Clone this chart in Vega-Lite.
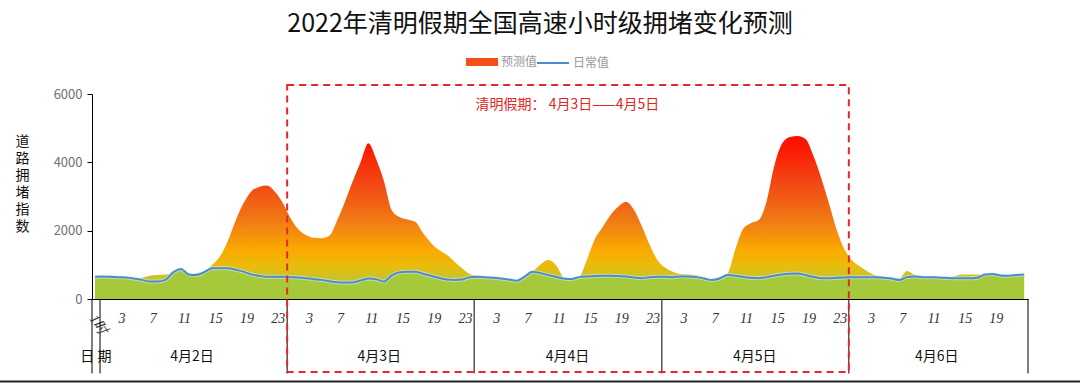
{
  "$schema": "https://vega.github.io/schema/vega-lite/v6.json",
  "width": 936,
  "height": 205,
  "autosize": {"type": "none"},
  "padding": {"left": 92, "top": 94, "right": 52, "bottom": 84},
  "background": "white",
  "config": {"font": "Noto Sans CJK SC", "view": {"stroke": null}, "axisX": {"labelOverlap": false, "labelBound": false}},
  "title": {"text": "2022年清明假期全国高速小时级拥堵变化预测", "fontSize": 25, "fontWeight": "normal", "color": "#111", "anchor": "middle", "offset": 9, "dx": -20, "font": "Noto Sans CJK SC"},
  "datasets": {
    "hourly": [
      {"h":0,"f":640,"n":650},{"h":1,"f":640,"n":660},{"h":2,"f":630,"n":650},{"h":3,"f":620,"n":640},{"h":4,"f":610,"n":630},{"h":5,"f":600,"n":600},{"h":6,"f":620,"n":560},{"h":7,"f":680,"n":510},{"h":8,"f":700,"n":510},{"h":9,"f":720,"n":560},
      {"h":10,"f":740,"n":780},{"h":11,"f":720,"n":880},{"h":12,"f":700,"n":720},{"h":13,"f":760,"n":700},{"h":14,"f":800,"n":790},{"h":15,"f":1000,"n":900},{"h":16,"f":1250,"n":900},{"h":17,"f":1700,"n":900},{"h":18,"f":2300,"n":860},{"h":19,"f":2800,"n":800},
      {"h":20,"f":3150,"n":720},{"h":21,"f":3280,"n":680},{"h":22,"f":3320,"n":650},{"h":23,"f":3150,"n":650},{"h":24,"f":2830,"n":650},{"h":25,"f":2380,"n":640},{"h":26,"f":2050,"n":630},{"h":27,"f":1870,"n":605},{"h":28,"f":1790,"n":580},{"h":29,"f":1780,"n":560},
      {"h":30,"f":1850,"n":520},{"h":31,"f":2300,"n":490},{"h":32,"f":2850,"n":480},{"h":33,"f":3450,"n":485},{"h":34,"f":4000,"n":540},{"h":35,"f":4560,"n":600},{"h":36,"f":4100,"n":580},{"h":37,"f":3450,"n":510},{"h":38,"f":2600,"n":690},{"h":39,"f":2400,"n":780},
      {"h":40,"f":2330,"n":800},{"h":41,"f":2260,"n":800},{"h":42,"f":1930,"n":740},{"h":43,"f":1650,"n":680},{"h":44,"f":1440,"n":620},{"h":45,"f":1300,"n":570},{"h":46,"f":1100,"n":556},{"h":47,"f":900,"n":570},{"h":48,"f":730,"n":640},{"h":49,"f":680,"n":650},
      {"h":50,"f":620,"n":640},{"h":51,"f":600,"n":620},{"h":52,"f":560,"n":600},{"h":53,"f":550,"n":570},{"h":54,"f":530,"n":535},{"h":55,"f":680,"n":650},{"h":56,"f":800,"n":800},{"h":57,"f":1000,"n":760},{"h":58,"f":1140,"n":700},{"h":59,"f":1000,"n":650},
      {"h":60,"f":620,"n":600},{"h":61,"f":470,"n":585},{"h":62,"f":620,"n":640},{"h":63,"f":1150,"n":660},{"h":64,"f":1750,"n":670},{"h":65,"f":2100,"n":680},{"h":66,"f":2450,"n":680},{"h":67,"f":2700,"n":670},{"h":68,"f":2850,"n":660},{"h":69,"f":2620,"n":630},
      {"h":70,"f":2150,"n":610},{"h":71,"f":1600,"n":640},{"h":72,"f":1150,"n":650},{"h":73,"f":920,"n":650},{"h":74,"f":800,"n":640},{"h":75,"f":730,"n":660},{"h":76,"f":720,"n":660},{"h":77,"f":700,"n":640},{"h":78,"f":640,"n":600},{"h":79,"f":560,"n":556},
      {"h":80,"f":650,"n":600},{"h":81,"f":750,"n":700},{"h":82,"f":1450,"n":680},{"h":83,"f":2050,"n":650},{"h":84,"f":2220,"n":620},{"h":85,"f":2310,"n":610},{"h":86,"f":2850,"n":640},{"h":87,"f":3900,"n":680},{"h":88,"f":4550,"n":720},{"h":89,"f":4740,"n":740},
      {"h":90,"f":4770,"n":750},{"h":91,"f":4680,"n":700},{"h":92,"f":4200,"n":650},{"h":93,"f":3550,"n":610},{"h":94,"f":2800,"n":610},{"h":95,"f":2020,"n":620},{"h":96,"f":1450,"n":630},{"h":97,"f":1120,"n":640},{"h":98,"f":950,"n":640},{"h":99,"f":800,"n":640},
      {"h":100,"f":690,"n":640},{"h":101,"f":660,"n":620},{"h":102,"f":620,"n":600},{"h":103,"f":600,"n":556},{"h":104,"f":820,"n":640},{"h":105,"f":700,"n":660},{"h":106,"f":660,"n":640},{"h":107,"f":650,"n":640},{"h":108,"f":640,"n":630},{"h":109,"f":640,"n":620},
      {"h":110,"f":660,"n":610},{"h":111,"f":720,"n":605},{"h":112,"f":720,"n":605},{"h":113,"f":720,"n":620},{"h":114,"f":700,"n":720},{"h":115,"f":700,"n":730},{"h":116,"f":690,"n":690},{"h":117,"f":680,"n":680},{"h":118,"f":700,"n":700},{"h":119,"f":720,"n":720}
    ],
    "days": [
      {"day":"4月2日","mid":12.4},{"day":"4月3日","mid":36.4},{"day":"4月4日","mid":60.5},{"day":"4月5日","mid":84.5},{"day":"4月6日","mid":107.8}
    ],
    "bounds": [
      {"b":-0.4},{"b":0.63},{"b":24.6},{"b":48.55},{"b":72.6},{"b":96.55},{"b":119.5}
    ]
  },
  "layer": [
    {
      "data": {"name": "hourly"},
      "mark": {"type": "area", "interpolate": "monotone",
        "color": {"gradient": "linear", "x1": 0, "y1": 0, "x2": 0, "y2": 1,
          "stops": [
            {"offset": 0, "color": "#ff0a00"},
            {"offset": 0.3, "color": "#f24a14"},
            {"offset": 0.52, "color": "#f07a14"},
            {"offset": 0.7, "color": "#fbaa00"},
            {"offset": 0.8, "color": "#e8bc0c"},
            {"offset": 0.87, "color": "#c9c22a"},
            {"offset": 1, "color": "#b0c834"}
          ]}},
      "encoding": {
        "x": {"field": "h", "type": "quantitative",
          "scale": {"domain": [-0.4, 119.5], "nice": false, "zero": false},
          "axis": {"values": [3,7,11,15,19,23,27,31,35,39,43,47,51,55,59,63,67,71,75,79,83,87,91,95,99,103,107,111,115],
            "tickCount": 60,
            "labelExpr": "'' + (datum.value % 24)",
            "ticks": false, "grid": false, "domainColor": "#000", "domainWidth": 1,
            "labelFont": "Liberation Serif", "labelFontStyle": "italic", "labelFontSize": 14, "labelColor": "#333",
            "labelPadding": 12, "labelOffset": 3, "title": null, "labelOverlap": false, "labelFlush": false, "labelSeparation": 0}},
        "y": {"field": "f", "type": "quantitative", "stack": null,
          "scale": {"domain": [0, 6000], "nice": false},
          "axis": {"values": [0,1000,2000,3000,4000,5000,6000], "format": "d", "grid": false,
            "domainColor": "#000", "tickColor": "#000", "tickSize": 5, "labelPadding": 5,
            "labelColor": "#707070", "labelFontSize": 13, "labelFont": "Noto Sans CJK SC",
            "title": ["道","路","拥","堵","指","数"], "titleAngle": 0, "titleFontSize": 14, "titleFontWeight": "normal",
            "titleColor": "#111", "titleLineHeight": 17, "titleX": -70, "titleY": 40, "titleBaseline": "top", "titleAlign": "center"}}
      }
    },
    {
      "data": {"name": "hourly"},
      "mark": {"type": "area", "interpolate": "monotone", "color": "#a5c93a"},
      "encoding": {
        "x": {"field": "h", "type": "quantitative"},
        "y": {"field": "n", "type": "quantitative", "stack": null}
      }
    },
    {
      "data": {"name": "hourly"},
      "mark": {"type": "line", "interpolate": "monotone", "color": "#e6f4fb", "strokeWidth": 4, "opacity": 0.5},
      "encoding": {
        "x": {"field": "h", "type": "quantitative"},
        "y": {"field": "n", "type": "quantitative"}
      }
    },
    {
      "data": {"name": "hourly"},
      "mark": {"type": "line", "interpolate": "monotone", "strokeWidth": 2},
      "encoding": {
        "x": {"field": "h", "type": "quantitative"},
        "y": {"field": "n", "type": "quantitative"},
        "color": {"datum": "日常值", "type": "nominal",
          "scale": {"domain": ["日常值"], "range": ["#4a8cd2"]},
          "legend": {"orient": "none", "legendX": 444, "legendY": -48, "direction": "horizontal", "title": null,
            "symbolType": "stroke", "symbolSize": 1024, "symbolStrokeWidth": 2,
            "labelFontSize": 12, "labelColor": "#999", "labelOffset": 3,
            "labelFont": "Noto Sans CJK SC"}}
      }
    },
    {
      "data": {"values": []},
      "mark": {"type": "square", "filled": true, "opacity": 1},
      "encoding": {
        "x": {"datum": 0},
        "y": {"datum": 0},
        "fill": {"datum": "预测值", "type": "nominal",
          "scale": {"domain": ["预测值"], "range": ["#f0501a"]},
          "legend": {"orient": "none", "legendX": 374, "legendY": -48, "direction": "horizontal", "title": null,
            "symbolType": "M-1,-0.25H1V0.25H-1Z", "symbolSize": 1024, "symbolStrokeWidth": 0, "symbolOpacity": 1,
            "labelFontSize": 12, "labelColor": "#999", "labelOffset": 3,
            "labelFont": "Noto Sans CJK SC"}}
      }
    },
    {
      "data": {"name": "bounds"},
      "mark": {"type": "rule", "color": "#000", "strokeWidth": 1},
      "encoding": {
        "x": {"field": "b", "type": "quantitative"},
        "y": {"datum": 0},
        "y2": {"datum": -2180}
      }
    },
    {
      "data": {"values": [{}]},
      "mark": {"type": "rect", "fillOpacity": 0, "stroke": "#e8262a", "strokeWidth": 2, "strokeDash": [7, 5]},
      "encoding": {
        "x": {"datum": 24.6},
        "x2": {"datum": 96.55},
        "y": {"datum": 6264},
        "y2": {"datum": -2137}
      }
    },
    {
      "data": {"values": [{}]},
      "mark": {"type": "text", "text": "清明假期： 4月3日——4月5日", "color": "#e0261e", "fontSize": 14, "align": "center", "baseline": "middle"},
      "encoding": {
        "x": {"datum": 60.5},
        "y": {"datum": 5678}
      }
    },
    {
      "data": {"values": [{}]},
      "mark": {"type": "text", "text": "1时", "color": "#333", "fontSize": 14, "font": "Liberation Serif", "fontStyle": "italic", "angle": 55, "align": "center", "baseline": "middle"},
      "encoding": {
        "x": {"datum": 0.4},
        "y": {"datum": -760}
      }
    },
    {
      "data": {"name": "days"},
      "mark": {"type": "text", "color": "#111", "fontSize": 14, "align": "center", "baseline": "middle"},
      "encoding": {
        "x": {"field": "mid", "type": "quantitative"},
        "y": {"datum": -1698},
        "text": {"field": "day"}
      }
    },
    {
      "data": {"values": [{}]},
      "mark": {"type": "text", "text": "日 期", "color": "#111", "fontSize": 14, "align": "center", "baseline": "middle"},
      "encoding": {
        "x": {"datum": 0.1},
        "y": {"datum": -1698}
      }
    },
    {
      "data": {"values": [{}]},
      "mark": {"type": "rule", "color": "#222", "strokeWidth": 2},
      "encoding": {
        "x": {"datum": -12.3},
        "x2": {"datum": 126.4},
        "y": {"datum": -2415}
      }
    }
  ]
}
